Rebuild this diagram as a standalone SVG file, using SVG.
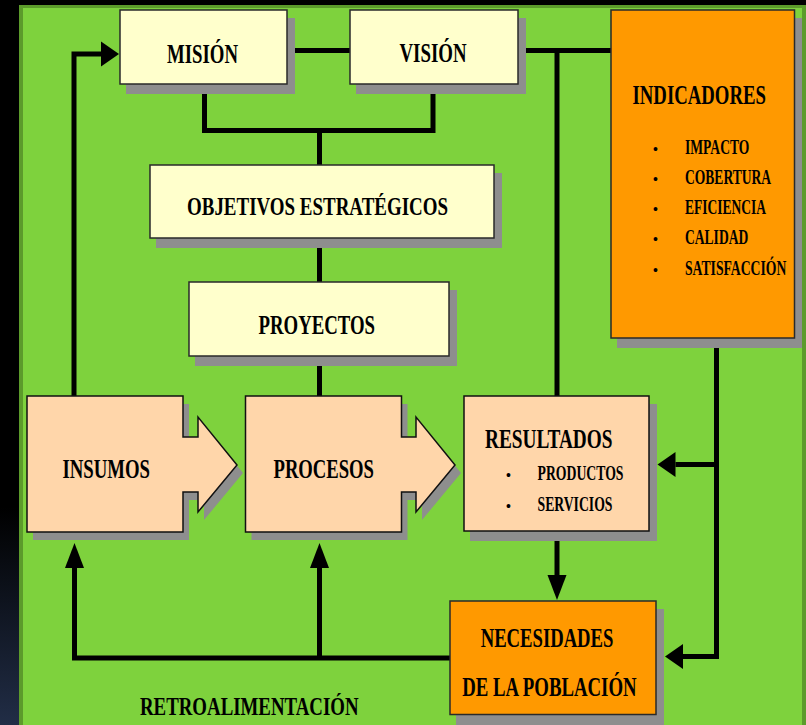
<svg xmlns="http://www.w3.org/2000/svg" width="806" height="725" viewBox="0 0 806 725">
<defs>
<linearGradient id="bg" x1="0" y1="0" x2="0" y2="1">
<stop offset="0" stop-color="#000"/>
<stop offset="0.7" stop-color="#000"/>
<stop offset="1" stop-color="#212d46"/>
</linearGradient>
<marker id="ah" markerUnits="userSpaceOnUse" viewBox="0 0 18 25" markerWidth="18" markerHeight="25" refX="0" refY="12.5" orient="auto" overflow="visible">
<path d="M0,0 L18,12.5 L0,25 Z" fill="#000"/>
</marker>
<marker id="av" markerUnits="userSpaceOnUse" viewBox="0 0 25 19" markerWidth="25" markerHeight="19" refX="0" refY="9.5" orient="auto" overflow="visible">
<path d="M0,0 L25,9.5 L0,19 Z" fill="#000"/>
</marker>
</defs>
<style>
.sh{fill:#8e8e8e}
.y{fill:#ffffcc;stroke:#2a2a2a;stroke-width:1.5}
.p{fill:#ffd6aa;stroke:#111;stroke-width:1.5}
.o{fill:#ff9900;stroke:#2a2a2a;stroke-width:1.5}
.c{fill:none;stroke:#000;stroke-width:5}
text{font-family:"Liberation Serif","Times New Roman",serif;font-weight:bold;fill:#000}
.t{font-size:28px}
.m{font-size:27px}
.s{font-size:20px}
.b{font-size:14px;text-anchor:middle}
</style>
<rect x="0" y="0" width="806" height="725" fill="url(#bg)"/>
<rect x="19" y="5" width="790" height="730" fill="#5c9b2b"/>
<rect x="23" y="8" width="779" height="730" fill="#7ed23d"/>

<g id="connectors">
<path class="c" d="M74,396 V54 H101" marker-end="url(#ah)"/>
<path class="c" d="M287,50.5 H350"/>
<path class="c" d="M518,50.5 H611"/>
<path class="c" d="M557,50.5 V396"/>
<path class="c" d="M204.5,84 V130.5 H433 V84"/>
<path class="c" d="M319.5,130.5 V165"/>
<path class="c" d="M319.5,238 V282"/>
<path class="c" d="M319.5,356 V396"/>
<path class="c" d="M716.5,340 V656.5 H683" marker-end="url(#ah)"/>
<path class="c" d="M716.5,464.5 H675.5" marker-end="url(#ah)"/>
<path class="c" d="M557,531 V575" marker-end="url(#av)"/>
<path class="c" d="M450,658 H74.5 V568" marker-end="url(#av)"/>
<path class="c" d="M319.5,658 V568" marker-end="url(#av)"/>
</g>

<g id="mision">
<rect class="sh" x="126" y="18" width="169" height="76"/>
<rect class="y" x="120" y="10" width="167" height="74"/>
<text class="t" x="167" y="62.5" textLength="71" lengthAdjust="spacingAndGlyphs">MISIÓN</text>
</g>
<g id="vision">
<rect class="sh" x="356" y="18" width="170" height="76"/>
<rect class="y" x="350" y="10" width="168" height="74"/>
<text class="t" x="399.5" y="62" textLength="67" lengthAdjust="spacingAndGlyphs">VISIÓN</text>
</g>
<g id="objetivos">
<rect class="sh" x="156" y="173" width="346" height="75"/>
<rect class="y" x="150" y="165" width="344" height="73"/>
<text x="187" y="215" font-size="26" textLength="261" lengthAdjust="spacingAndGlyphs">OBJETIVOS ESTRATÉGICOS</text>
</g>
<g id="proyectos">
<rect class="sh" x="195" y="290" width="262" height="76"/>
<rect class="y" x="189" y="282" width="260" height="74"/>
<text class="t" x="258.5" y="334" textLength="116.5" lengthAdjust="spacingAndGlyphs">PROYECTOS</text>
</g>
<g id="indicadores">
<rect class="sh" x="617" y="18" width="185" height="330"/>
<rect class="o" x="611" y="10" width="183.5" height="328"/>
<text class="m" transform="translate(632.5,103.5) scale(0.695,1)">INDICADORES</text>
<text class="b" x="655.5" y="153.5">•</text>
<text class="s" transform="translate(685,153.5) scale(0.679,1)">IMPACTO</text>
<text class="b" x="655.5" y="183.5">•</text>
<text class="s" transform="translate(685,183.5) scale(0.678,1)">COBERTURA</text>
<text class="b" x="655.5" y="213.5">•</text>
<text class="s" transform="translate(685,213.5) scale(0.675,1)">EFICIENCIA</text>
<text class="b" x="655.5" y="243.5">•</text>
<text class="s" transform="translate(685,243.5) scale(0.678,1)">CALIDAD</text>
<text class="b" x="655.5" y="275">•</text>
<text class="s" transform="translate(685,275) scale(0.684,1)">SATISFACCIÓN</text>
</g>
<g id="insumos">
<path class="sh" transform="translate(6,8)" d="M27,396 H183 V437 H198 V417 L237,465 L198,512 V492 H183 V532 H27 Z"/>
<path class="p" d="M27,396 H183 V437 H198 V417 L237,465 L198,512 V492 H183 V532 H27 Z"/>
<text class="t" x="62.5" y="477.5" textLength="87.5" lengthAdjust="spacingAndGlyphs">INSUMOS</text>
</g>
<g id="procesos">
<path class="sh" transform="translate(6,8)" d="M245.5,396 H401.5 V437 H416 V417 L455,465 L416,512 V492 H401.5 V532 H245.5 Z"/>
<path class="p" d="M245.5,396 H401.5 V437 H416 V417 L455,465 L416,512 V492 H401.5 V532 H245.5 Z"/>
<text class="t" x="273.5" y="477.5" textLength="100.5" lengthAdjust="spacingAndGlyphs">PROCESOS</text>
</g>
<g id="resultados">
<rect class="sh" x="470" y="404" width="187" height="137"/>
<rect class="p" x="464" y="396" width="185" height="135"/>
<text class="t" x="485" y="447.5" textLength="127.5" lengthAdjust="spacingAndGlyphs">RESULTADOS</text>
<text class="b" x="508.5" y="480">•</text>
<text class="s" x="537.5" y="480" textLength="86" lengthAdjust="spacingAndGlyphs">PRODUCTOS</text>
<text class="b" x="508.5" y="511">•</text>
<text class="s" x="537.5" y="511" textLength="75" lengthAdjust="spacingAndGlyphs">SERVICIOS</text>
</g>
<g id="necesidades">
<rect class="sh" x="456" y="609" width="208" height="116"/>
<rect class="o" x="450" y="601" width="206" height="113.5"/>
<text class="m" x="480.7" y="647.3" textLength="132.7" lengthAdjust="spacingAndGlyphs">NECESIDADES</text>
<text class="m" x="462.3" y="696" textLength="174.3" lengthAdjust="spacingAndGlyphs">DE LA POBLACIÓN</text>
</g>
<g id="retroalimentacion">
<text x="140" y="715" font-size="26" textLength="218.5" lengthAdjust="spacingAndGlyphs">RETROALIMENTACIÓN</text>
</g>
</svg>
